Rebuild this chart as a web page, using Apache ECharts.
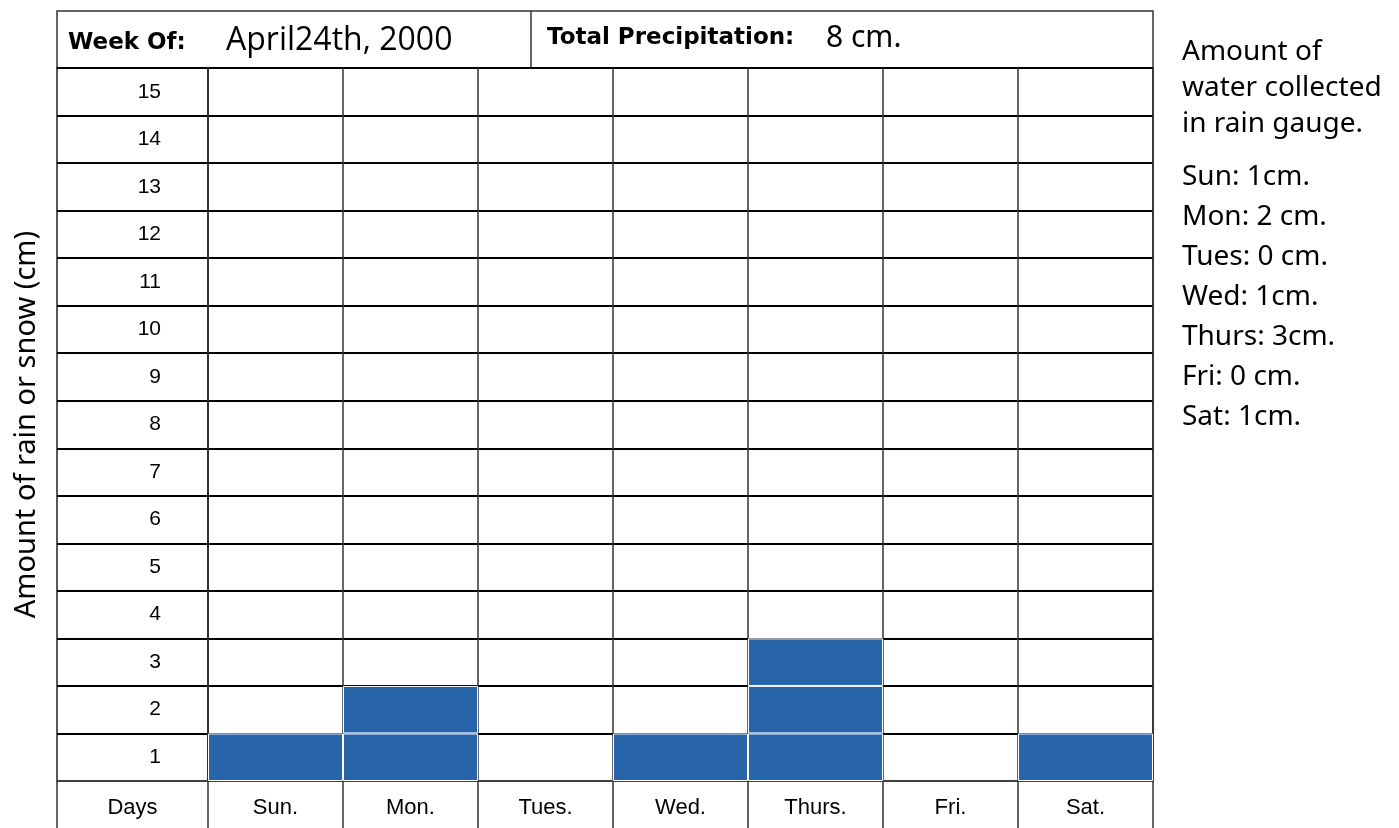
<!DOCTYPE html>
<html>
<head>
<meta charset="utf-8">
<script src="https://cdn.jsdelivr.net/npm/echarts@6/dist/echarts.min.js"></script>
<style>
  html, body { margin: 0; padding: 0; background: #fff; }
  #rain { width: 1399px; height: 828px; }
</style>
</head>
<body>
<div id="rain"></div>
<script>
  // data
  var days = ['Sun.', 'Mon.', 'Tues.', 'Wed.', 'Thurs.', 'Fri.', 'Sat.'];
  var amounts = [1, 2, 0, 1, 3, 0, 1];
  var rowLabels = ['1', '2', '3', '4', '5', '6', '7', '8', '9', '10', '11', '12', '13', '14', '15'];
  var notes = ['Sun: 1cm.', 'Mon: 2 cm.', 'Tues: 0 cm.', 'Wed: 1cm.', 'Thurs: 3cm.', 'Fri: 0 cm.', 'Sat: 1cm.'];
  var noteTitle = ['Amount of', 'water collected', 'in rain gauge.'];

  var labelFont = 'Liberation Sans';
  var handFont = 'Noto Sans';

  // one stacked block per centimetre so each cell shows its own border
  var blocks = [];
  for (var k = 1; k <= 3; k++) {
    blocks.push({
      type: 'bar',
      xAxisIndex: 1,
      yAxisIndex: 1,
      stack: 'rain',
      barWidth: '100%',
      data: amounts.map(function (v) { return v >= k ? 1 : null; }),
      itemStyle: { color: '#2764a9', borderColor: '#fff', borderWidth: 1 },
      silent: true
    });
  }

  var graphics = [
    { type: 'rect', shape: { x: 57, y: 11, width: 1096, height: 57 }, style: { fill: 'none', stroke: '#333', lineWidth: 1.5 } },
    { type: 'line', shape: { x1: 531, y1: 11, x2: 531, y2: 68 }, style: { stroke: '#333', lineWidth: 1.5 } },
    { type: 'text', x: 68, y: 43, style: { text: 'Week Of:', font: 'bold 23px "DejaVu Sans"', fill: '#000', textVerticalAlign: 'middle' } },
    { type: 'text', x: 226, y: 41, style: { text: 'April24th, 2000', font: '32px "Open Sans"', fill: '#000', textVerticalAlign: 'middle' } },
    { type: 'text', x: 547, y: 38, style: { text: 'Total Precipitation:', font: 'bold 23px "DejaVu Sans"', fill: '#000', textVerticalAlign: 'middle' } },
    { type: 'text', x: 826, y: 38, style: { text: '8 cm.', font: '30px "' + handFont + '"', fill: '#000', textVerticalAlign: 'middle' } }
  ];
  noteTitle.forEach(function (t, i) {
    graphics.push({ type: 'text', x: 1182, y: 52 + i * 36, style: { text: t, font: '28px "' + handFont + '"', fill: '#000', textVerticalAlign: 'middle' } });
  });
  notes.forEach(function (t, i) {
    graphics.push({ type: 'text', x: 1182, y: 177 + i * 40, style: { text: t, font: '28px "' + handFont + '"', fill: '#000', textVerticalAlign: 'middle' } });
  });

  var chart = echarts.init(document.getElementById('rain'));
  chart.setOption({
    animation: false,
    backgroundColor: '#fff',
    grid: [
      { left: 57, top: 68, width: 151, bottom: 47, show: true, borderColor: '#222', borderWidth: 1.5 },
      { left: 208, top: 68, right: 246, bottom: 47, show: true, borderColor: '#222', borderWidth: 1.5 }
    ],
    xAxis: [
      {
        gridIndex: 0,
        type: 'category',
        data: ['Days'],
        axisLine: { lineStyle: { color: '#555', width: 1.5 } },
        axisTick: { show: true, length: 47, lineStyle: { color: '#333', width: 1.5 } },
        axisLabel: { color: '#000', fontSize: 22, fontFamily: labelFont, margin: 16 }
      },
      {
        gridIndex: 1,
        type: 'category',
        data: days,
        axisLine: { lineStyle: { color: '#555', width: 1.5 } },
        axisTick: { show: true, length: 47, lineStyle: { color: '#333', width: 1.5 } },
        axisLabel: { color: '#000', fontSize: 22, fontFamily: labelFont, margin: 16 },
        splitLine: { show: true, lineStyle: { color: '#333', width: 1.5 } }
      }
    ],
    yAxis: [
      {
        gridIndex: 0,
        type: 'category',
        data: rowLabels,
        axisLine: { show: false },
        axisTick: { show: false },
        axisLabel: { color: '#000', fontSize: 21, fontFamily: labelFont, margin: -104, align: 'right' },
        splitLine: { show: true, lineStyle: { color: '#000', width: 2 } },
        name: 'Amount of rain or snow (cm)',
        nameLocation: 'middle',
        nameRotate: 90,
        nameGap: 16,
        nameTextStyle: { color: '#000', fontSize: 29, fontFamily: handFont }
      },
      {
        gridIndex: 1,
        type: 'value',
        min: 0,
        max: 15,
        interval: 1,
        axisLine: { show: false },
        axisTick: { show: false },
        axisLabel: { show: false },
        splitLine: { show: true, lineStyle: { color: '#000', width: 2 } }
      }
    ],
    series: blocks,
    graphic: graphics
  });
</script>
</body>
</html>
